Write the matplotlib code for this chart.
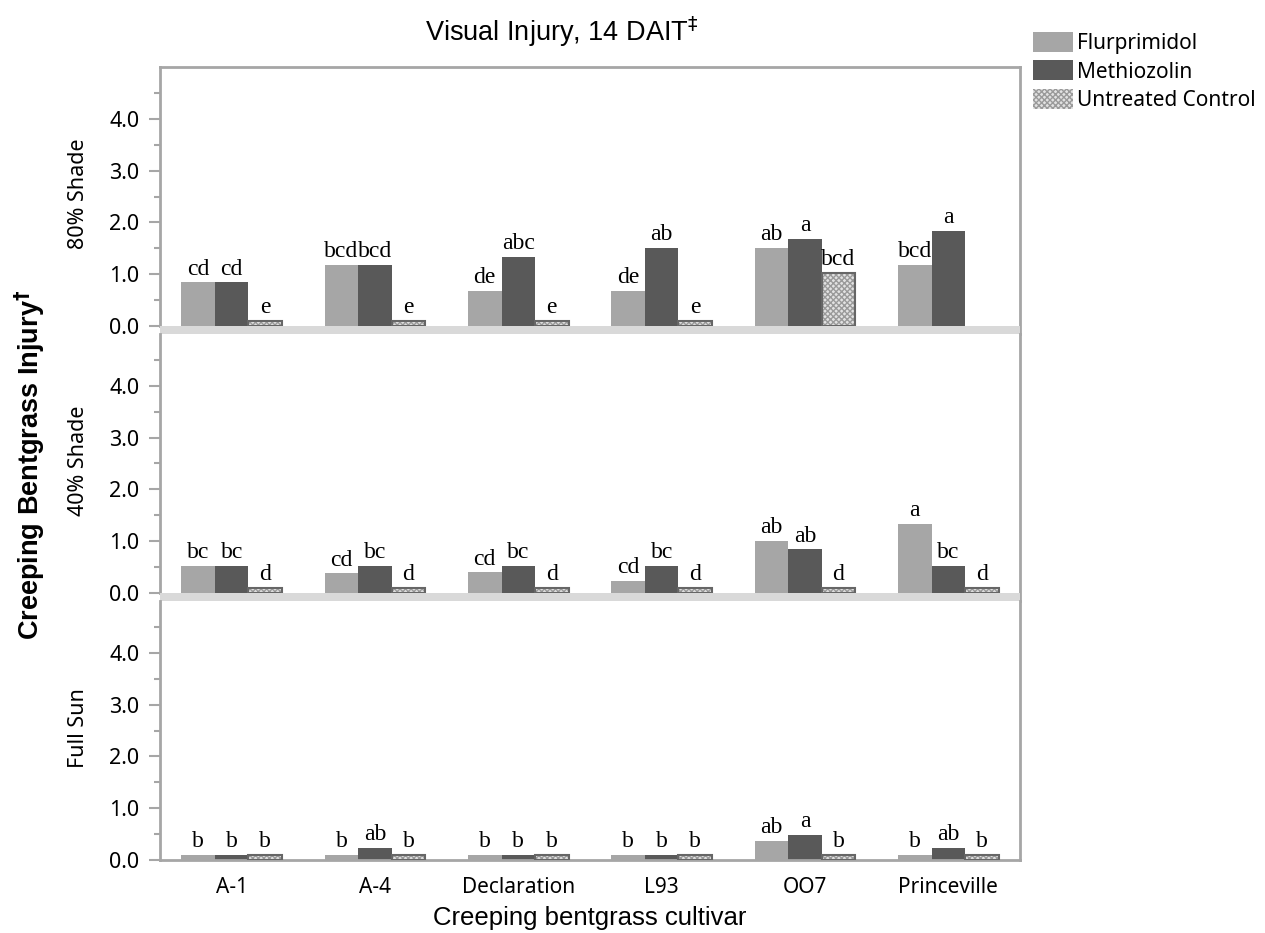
import numpy as np
import matplotlib
matplotlib.use("Agg")
import matplotlib.pyplot as plt
import matplotlib.patches as mpatches
from matplotlib import transforms

cultivars = ["A-1", "A-4", "Declaration", "L93", "OO7", "Princeville"]
treatments = ["Flurprimidol", "Methiozolin", "Untreated Control"]
panels = ["80% Shade", "40% Shade", "Full Sun"]

# injury values per panel: [flurprimidol, methiozolin, control]; nan = no bar
shade80 = [[0.84, 1.18, 0.68, 0.68, 1.51, 1.18],
           [0.84, 1.18, 1.34, 1.51, 1.68, 1.84],
           [0.10, 0.10, 0.10, 0.10, 1.02, np.nan]]
shade40 = [[0.53, 0.38, 0.40, 0.24, 1.00, 1.34],
           [0.53, 0.53, 0.53, 0.53, 0.84, 0.53],
           [0.10, 0.10, 0.10, 0.10, 0.10, 0.10]]
fullsun = [[0.10, 0.10, 0.10, 0.10, 0.37, 0.10],
           [0.10, 0.23, 0.10, 0.10, 0.48, 0.23],
           [0.10, 0.10, 0.10, 0.10, 0.10, 0.10]]

letters80 = [["cd", "bcd", "de", "de", "ab", "bcd"],
             ["cd", "bcd", "abc", "ab", "a", "a"],
             ["e", "e", "e", "e", "bcd", ""]]
letters40 = [["bc", "cd", "cd", "cd", "ab", "a"],
             ["bc", "bc", "bc", "bc", "ab", "bc"],
             ["d", "d", "d", "d", "d", "d"]]
letterssun = [["b", "b", "b", "b", "ab", "b"],
              ["b", "ab", "b", "b", "a", "ab"],
              ["b", "b", "b", "b", "b", "b"]]

data = [shade80, shade40, fullsun]
letters = [letters80, letters40, letterssun]

W, H = 1265, 933
fig = plt.figure(figsize=(W / 100, H / 100), dpi=100)

frame = "#a6a6a6"
band = "#d9d9d9"
fill_cols = ["#a6a6a6", "#595959", "#e2e2e2"]
sans = "Noto Sans"
arial = "Liberation Sans"
serif = "Liberation Serif"

left, right = 160, 1020
unit = 51.8
band_px = 8
tops = [67]
for i in range(2):
    tops.append(tops[-1] + 5 * unit + band_px)

x = np.arange(len(cultivars))
bw = 0.234
axes = []
for p in range(3):
    has_band = p < 2
    h_px = 5 * unit + (band_px if has_band else 0)
    ax = fig.add_axes([left / W, 1 - (tops[p] + h_px) / H, (right - left) / W, h_px / H])
    axes.append(ax)
    ymin = -band_px / unit if has_band else 0
    ax.set_ylim(ymin, 5)
    ax.set_xlim(-0.5, 5.5)
    if has_band:
        ax.axhspan(ymin, 0, color=band, lw=0, zorder=4)

    for t in range(3):
        vals = np.array(data[p][t], dtype=float)
        xs = x + (t - 1) * bw
        ok = ~np.isnan(vals)
        if t < 2:
            ax.bar(xs[ok], vals[ok], bw, color=fill_cols[t], lw=0, zorder=2)
        else:
            ax.bar(xs[ok], vals[ok], bw, color=fill_cols[t], edgecolor="#9a9a9a",
                   hatch="xxxxxx", lw=0, zorder=2)
            ax.bar(xs[ok], vals[ok], bw, fill=False, edgecolor="#666666", lw=1.5, zorder=3)
        for xi, v, s in zip(xs[ok], vals[ok], np.array(letters[p][t])[ok]):
            ax.annotate(s, (xi, v), xytext=(0, 2), textcoords="offset points",
                        ha="center", va="bottom", fontsize=17, family=serif,
                        color="black", zorder=5)

    ax.set_yticks([0, 1, 2, 3, 4])
    ax.set_yticklabels(["0.0", "1.0", "2.0", "3.0", "4.0"], family=sans, fontsize=15.5)
    ax.set_yticks(np.arange(0.5, 5, 1.0), minor=True)
    ax.tick_params(axis="y", which="major", length=8, width=1.5, color=frame, pad=7)
    ax.tick_params(axis="y", which="minor", length=4.5, width=1.5, color=frame)
    ax.spines["left"].set_bounds(0, 5)
    for sp in ["left", "right", "top", "bottom"]:
        ax.spines[sp].set_color(frame)
        ax.spines[sp].set_linewidth(2)
    ax.spines["top"].set_visible(p == 0)
    ax.spines["bottom"].set_visible(p == 2)

    tr = transforms.blended_transform_factory(ax.transAxes, ax.transData)
    ax.text(-0.095, 2.55, panels[p], transform=tr, rotation=90, ha="center",
            va="center", family=sans, fontsize=15.5)

    if p < 2:
        ax.set_xticks([])
    else:
        ax.set_xticks(x)
        ax.set_xticklabels(cultivars, family=sans, fontsize=15)
        ax.tick_params(axis="x", length=0, pad=12)
        ax.set_xlabel("Creeping bentgrass cultivar", family=arial, fontsize=18.5, labelpad=6)

fig.text(562 / W, 1 - 32 / H, r"Visual Injury, 14 DAIT$^{\ddagger}$", ha="center",
         va="center", family=arial, fontsize=19.5)
fig.text(30 / W, 1 - 465 / H, r"Creeping Bentgrass Injury$^{\mathbf{\dagger}}$",
         rotation=90, ha="center", va="center", family=arial, fontsize=19.5,
         fontweight="bold")

handles = [mpatches.Patch(facecolor=fill_cols[0], lw=0),
           mpatches.Patch(facecolor=fill_cols[1], lw=0),
           mpatches.Patch(facecolor=fill_cols[2], edgecolor="#9a9a9a", hatch="xxxxxx", lw=0)]
fig.legend(handles, treatments, loc="upper left", bbox_to_anchor=(1029 / W, 1 - 28 / H),
           frameon=False, prop={"family": sans, "size": 15}, handlelength=1.9,
           handleheight=1.1, handletextpad=0.2, labelspacing=0.3, borderaxespad=0,
           borderpad=0.2)

fig.savefig("out.png", dpi=100)
